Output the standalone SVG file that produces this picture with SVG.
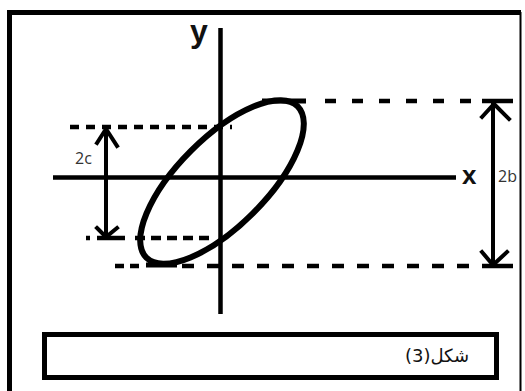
<svg xmlns="http://www.w3.org/2000/svg" width="525" height="391" viewBox="0 0 525 391">
<style>
.ax{stroke:#000;stroke-width:4.5;fill:none}
.dash{stroke:#000;stroke-width:4.5;fill:none}
.arr{stroke:#000;stroke-width:4;fill:none;stroke-linecap:square}
.lbl{font-family:"Open Sans","Liberation Sans",sans-serif;font-size:16px;fill:#333}
.axl{font-family:"Liberation Sans",Arial,sans-serif;font-weight:bold;fill:#111}
</style>
<rect width="525" height="391" fill="#fff"/>
<g id="frame">
<path d="M9.5 395 V12.5 H521" fill="none" stroke="#000" stroke-width="5"/>
<path d="M520.5 12 V395" fill="none" stroke="#000" stroke-width="2"/>
</g>
<g id="axes">
<line class="ax" x1="220.5" y1="28" x2="220.5" y2="314"/>
<line class="ax" x1="53" y1="177.5" x2="456" y2="177.5"/>
<text class="axl" x="190" y="42" font-size="32">y</text>
<text class="axl" x="462" y="184" font-size="26">x</text>
</g>
<g id="ellipse">
<ellipse cx="222" cy="182" rx="107" ry="44" transform="rotate(-45 222 182)" fill="none" stroke="#000" stroke-width="6"/>
<line x1="262" y1="101" x2="306" y2="101" stroke="#000" stroke-width="5"/>
<line x1="146" y1="265" x2="177" y2="265" stroke="#000" stroke-width="5"/>
</g>
<g id="connectors">
<line class="dash" x1="325" y1="101" x2="482" y2="101" stroke-dasharray="11 16"/>
<line class="dash" x1="482" y1="101" x2="513" y2="101"/>
<line class="dash" x1="70" y1="127" x2="232" y2="127" stroke-dasharray="9 7"/>
<line class="dash" x1="86" y1="238" x2="90" y2="238"/>
<line class="dash" x1="97" y1="238" x2="125" y2="238"/>
<line class="dash" x1="135" y1="238" x2="214" y2="238" stroke-dasharray="10 6"/>
<line class="dash" x1="115" y1="266" x2="140" y2="266" stroke-dasharray="9 6"/>
<line class="dash" x1="182" y1="266" x2="480" y2="266" stroke-dasharray="12 13"/>
<line class="dash" x1="482" y1="266" x2="513" y2="266"/>
<line class="arr" x1="106" y1="128" x2="106" y2="236"/>
<polyline class="arr" points="97,143 106,129 117,146"/>
<polyline class="arr" points="97,228 106,237 117,228"/>
<line class="arr" x1="493" y1="104" x2="493" y2="264"/>
<polyline class="arr" points="482,117 494,104 509,119"/>
<polyline class="arr" points="482,252 493,265 507,252"/>
<text class="lbl" x="75" y="164">2c</text>
<text class="lbl" x="498" y="182">2b</text>
</g>
<g id="caption">
<rect x="44.5" y="334.5" width="452" height="43" fill="#fff" stroke="#000" stroke-width="5"/>
<text x="437" y="362" font-family="'DejaVu Sans',sans-serif" font-size="18" text-anchor="middle" direction="rtl" fill="#111">شكل(3)</text>
</g>
</svg>
